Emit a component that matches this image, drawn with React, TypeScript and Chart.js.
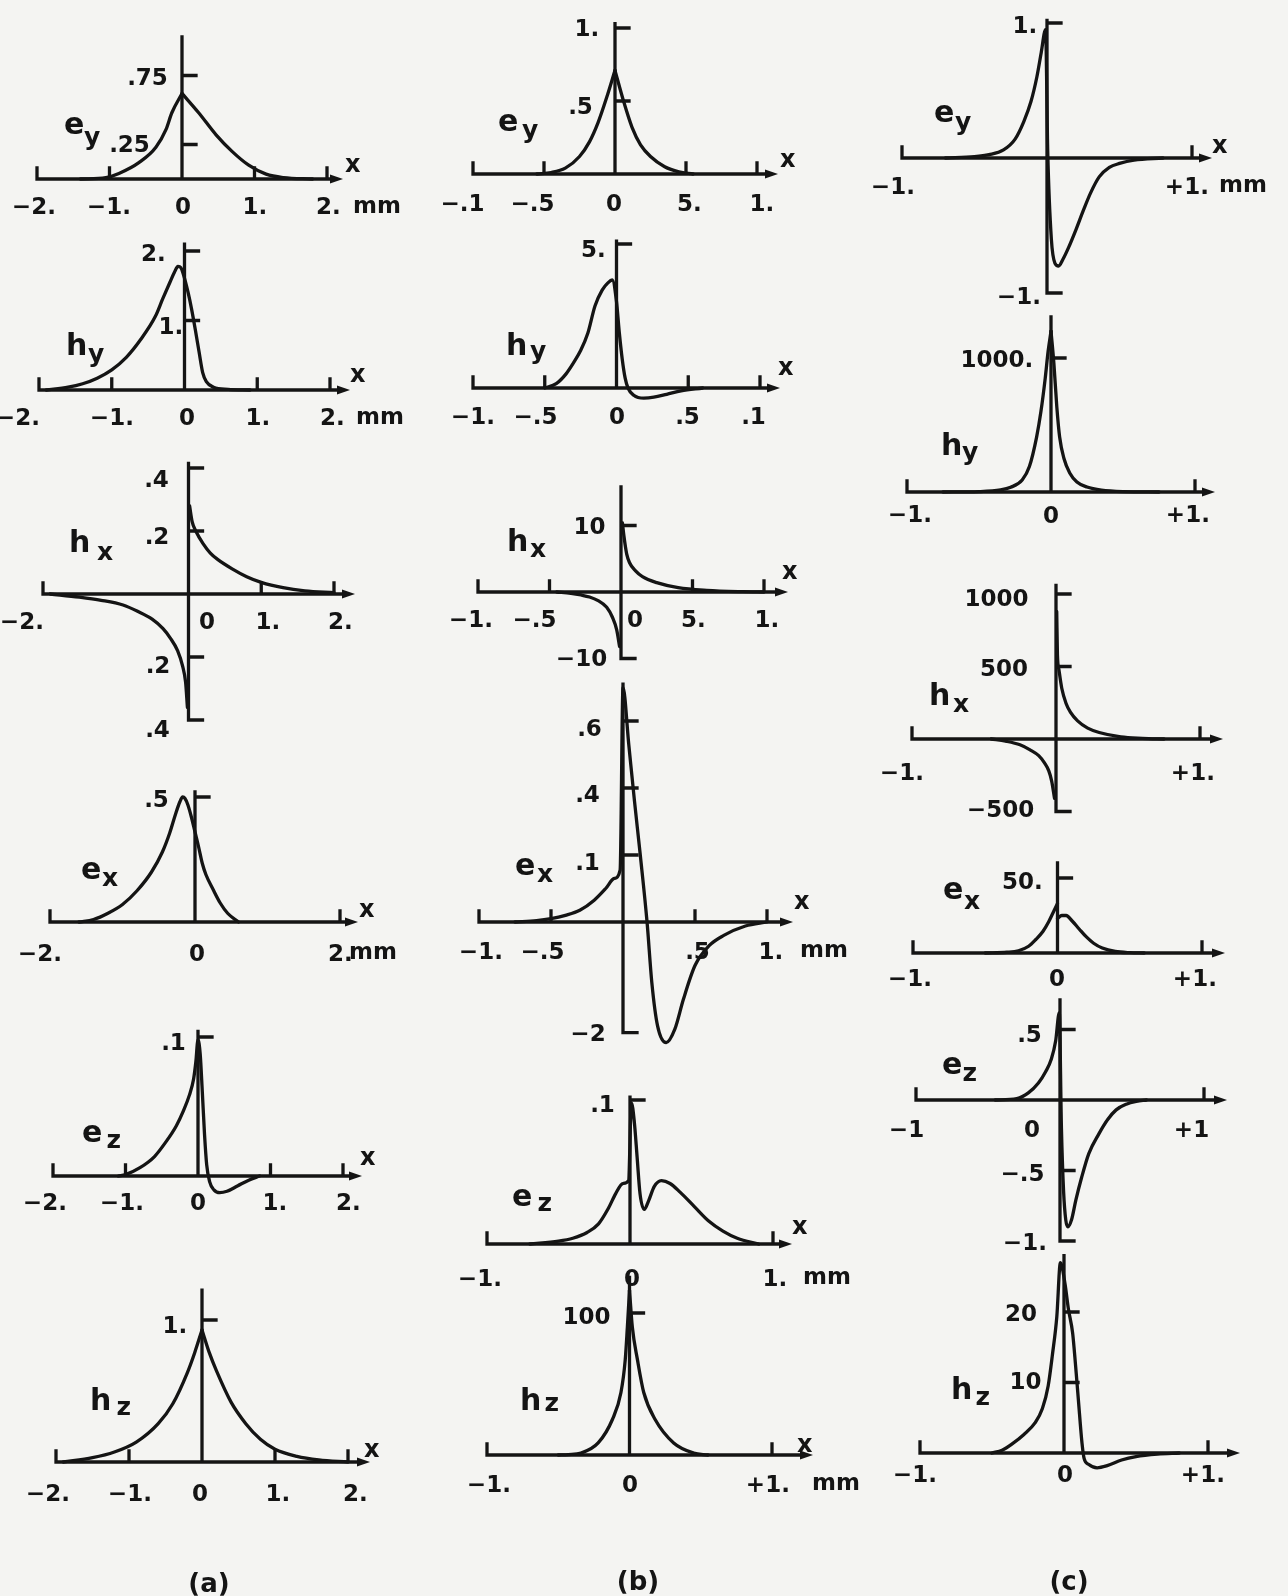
import { useEffect, useRef } from "react";
import { Chart, registerables } from "chart.js";
import type { Plugin } from "chart.js";

Chart.register(...registerables);

const PAGE_W = 1288;
const PAGE_H = 1596;
const INK = "#141414";
const PAPER = "#f4f4f2";
const FACE = '"DejaVu Sans", "Liberation Sans", sans-serif';
const M = "\u2212";

// ---------- column (a) field profiles ----------
const A_EY_L_X = [-1.4, -1.05, -0.87, -0.59, -0.36, -0.22, -0.14, 0];
const A_EY_L_Y = [0, 0.01, 0.04, 0.12, 0.23, 0.36, 0.48, 0.62];
const A_EY_R_X = [0, 0.23, 0.47, 0.69, 0.92, 1.16, 1.4, 1.8];
const A_EY_R_Y = [0.62, 0.48, 0.32, 0.2, 0.1, 0.035, 0.01, 0];

const A_HY_X = [-1.9, -1.6, -1.4, -1.2, -1.0, -0.8, -0.6, -0.4, -0.3, -0.2, -0.14, -0.09, -0.05, -0.02, 0.05, 0.1, 0.15, 0.2, 0.25, 0.3, 0.4, 0.6, 0.9];
const A_HY_Y = [0, 0.04, 0.09, 0.17, 0.29, 0.47, 0.73, 1.06, 1.31, 1.55, 1.69, 1.78, 1.76, 1.68, 1.4, 1.15, 0.86, 0.55, 0.25, 0.12, 0.04, 0.01, 0];

const A_HX_L_X = [-1.9, -1.5, -1.2, -0.9, -0.7, -0.5, -0.35, -0.25, -0.15, -0.08, -0.04, -0.015];
const A_HX_L_Y = [0, -0.01, -0.02, -0.035, -0.055, -0.08, -0.11, -0.14, -0.18, -0.23, -0.28, -0.36];
const A_HX_R_X = [0.015, 0.05, 0.1, 0.2, 0.3, 0.4, 0.6, 0.8, 1.0, 1.3, 1.6, 2.0];
const A_HX_R_Y = [0.28, 0.23, 0.2, 0.16, 0.13, 0.11, 0.08, 0.055, 0.037, 0.02, 0.01, 0.004];

const A_EX_X = [-1.6, -1.4, -1.2, -1.0, -0.8, -0.6, -0.45, -0.35, -0.27, -0.21, -0.17, -0.14, -0.1, -0.05, 0, 0.05, 0.1, 0.15, 0.25, 0.35, 0.45, 0.6];
const A_EX_Y = [0, 0.01, 0.035, 0.07, 0.125, 0.2, 0.28, 0.355, 0.43, 0.48, 0.5, 0.495, 0.47, 0.42, 0.36, 0.3, 0.235, 0.19, 0.13, 0.075, 0.035, 0];

const A_EZ_X = [-1.1, -1.0, -0.8, -0.6, -0.45, -0.3, -0.2, -0.12, -0.06, -0.03, 0, 0.03, 0.06, 0.09, 0.12, 0.16, 0.22, 0.3, 0.4, 0.55, 0.7, 0.85];
const A_EZ_Y = [0, 0.001, 0.006, 0.014, 0.024, 0.036, 0.047, 0.058, 0.07, 0.082, 0.098, 0.088, 0.06, 0.03, 0.008, -0.004, -0.01, -0.012, -0.011, -0.007, -0.003, 0];

const A_HZ_L_X = [-1.9, -1.5, -1.2, -0.9, -0.6, -0.4, -0.2, -0.1, 0];
const A_HZ_L_Y = [0, 0.03, 0.07, 0.14, 0.27, 0.41, 0.63, 0.77, 0.93];
const A_HZ_R_X = [0, 0.1, 0.2, 0.4, 0.6, 0.8, 1.0, 1.3, 1.6, 2.0];
const A_HZ_R_Y = [0.93, 0.77, 0.64, 0.42, 0.27, 0.16, 0.09, 0.04, 0.015, 0];

// ---------- column (b) field profiles ----------
const B_EY_L_X = [-0.55, -0.45, -0.35, -0.25, -0.18, -0.12, -0.06, 0];
const B_EY_L_Y = [0, 0.01, 0.04, 0.12, 0.22, 0.35, 0.52, 0.71];
const B_EY_R_X = [0, 0.06, 0.12, 0.18, 0.25, 0.35, 0.45, 0.55];
const B_EY_R_Y = [0.71, 0.5, 0.32, 0.2, 0.12, 0.05, 0.015, 0];

const B_HY_X = [-0.5, -0.42, -0.35, -0.3, -0.25, -0.2, -0.15, -0.1, -0.06, -0.03, 0, 0.02, 0.04, 0.06, 0.08, 0.12, 0.19, 0.26, 0.35, 0.45, 0.6];
const B_HY_Y = [0, 0.15, 0.5, 0.87, 1.3, 1.9, 2.85, 3.4, 3.65, 3.75, 3.0, 1.9, 1.0, 0.35, 0, -0.25, -0.35, -0.32, -0.22, -0.1, 0];

const B_HX_L_X = [-0.45, -0.35, -0.28, -0.22, -0.16, -0.1, -0.06, -0.03, -0.01];
const B_HX_L_Y = [0, -0.2, -0.45, -0.75, -1.3, -2.3, -3.8, -5.7, -8.2];
const B_HX_R_X = [0.01, 0.02, 0.04, 0.06, 0.1, 0.15, 0.25, 0.4, 0.6, 0.85, 1.0];
const B_HX_R_Y = [10.4, 8.5, 5.7, 4.4, 3.2, 2.3, 1.4, 0.65, 0.25, 0.05, 0];

const B_EX_X = [-0.75, -0.6, -0.5, -0.4, -0.3, -0.2, -0.12, -0.06, -0.02, 0, 0.04, 0.08, 0.12, 0.167, 0.2, 0.24, 0.3, 0.36, 0.42, 0.5, 0.6, 0.7, 0.85, 1.0];
const B_EX_Y = [0, 0.004, 0.01, 0.02, 0.035, 0.065, 0.1, 0.13, 0.155, 0.7, 0.53, 0.36, 0.2, 0, -0.18, -0.31, -0.36, -0.32, -0.23, -0.13, -0.07, -0.04, -0.012, 0];

const B_EZ_X = [-0.7, -0.5, -0.4, -0.3, -0.22, -0.15, -0.1, -0.05, -0.01, 0.01, 0.03, 0.05, 0.07, 0.1, 0.13, 0.17, 0.22, 0.28, 0.35, 0.45, 0.55, 0.65, 0.75, 0.9];
const B_EZ_Y = [0, 0.002, 0.004, 0.008, 0.014, 0.025, 0.035, 0.042, 0.044, 0.098, 0.085, 0.06, 0.035, 0.024, 0.03, 0.04, 0.044, 0.042, 0.036, 0.026, 0.016, 0.009, 0.004, 0];

const B_HZ_L_X = [-0.5, -0.43, -0.34, -0.22, -0.12, -0.06, -0.03, -0.015, 0];
const B_HZ_L_Y = [0, 0.3, 1.4, 8.5, 25, 44, 67, 90, 116];
const B_HZ_R_X = [0, 0.02, 0.056, 0.1, 0.18, 0.31, 0.45, 0.55];
const B_HZ_R_Y = [116, 90, 67, 44, 25, 8.5, 1.4, 0];

// ---------- column (c) field profiles ----------
const C_EY_X = [-0.7, -0.5, -0.4, -0.3, -0.22, -0.16, -0.11, -0.07, -0.04, -0.01, 0.005, 0.03, 0.055, 0.08, 0.11, 0.15, 0.2, 0.25, 0.3, 0.36, 0.43, 0.5, 0.6, 0.8];
const C_EY_Y = [0, 0.01, 0.025, 0.06, 0.14, 0.27, 0.42, 0.6, 0.78, 0.95, 0.05, -0.6, -0.78, -0.8, -0.75, -0.66, -0.53, -0.39, -0.26, -0.14, -0.07, -0.04, -0.015, 0];

const C_HY_L_X = [-0.75, -0.5, -0.35, -0.28, -0.2, -0.15, -0.1, -0.07, -0.04, -0.02, 0];
const C_HY_L_Y = [0, 3, 15, 35, 90, 190, 410, 600, 850, 1050, 1200];
const C_HY_R_X = [0, 0.02, 0.04, 0.06, 0.09, 0.13, 0.18, 0.25, 0.35, 0.5, 0.75];
const C_HY_R_Y = [1200, 960, 640, 410, 250, 142, 75, 37, 14, 3, 0];

const C_HX_L_X = [-0.45, -0.35, -0.25, -0.18, -0.12, -0.08, -0.05, -0.03, -0.01];
const C_HX_L_Y = [0, -15, -40, -75, -115, -165, -220, -290, -410];
const C_HX_R_X = [0.005, 0.01, 0.02, 0.04, 0.07, 0.1, 0.15, 0.22, 0.3, 0.45, 0.6, 0.75];
const C_HX_R_Y = [880, 580, 480, 350, 245, 185, 125, 75, 45, 15, 5, 0];

const C_EX_L_X = [-0.5, -0.35, -0.27, -0.2, -0.15, -0.1, -0.06, -0.03, 0];
const C_EX_L_Y = [0, 0.5, 1.5, 4.5, 9, 14.5, 21, 27, 33];
const C_EX_R_X = [0, 0.03, 0.06, 0.1, 0.15, 0.2, 0.25, 0.31, 0.4, 0.5, 0.6];
const C_EX_R_Y = [23, 25, 25, 21.5, 16, 10.7, 6.5, 3.3, 1, 0.2, 0];

const C_EZ_X = [-0.45, -0.3, -0.22, -0.15, -0.1, -0.06, -0.03, -0.005, 0.01, 0.025, 0.04, 0.055, 0.08, 0.11, 0.15, 0.2, 0.27, 0.33, 0.39, 0.46, 0.53, 0.6];
const C_EZ_Y = [0, 0.01, 0.05, 0.12, 0.2, 0.29, 0.42, 0.62, -0.2, -0.65, -0.85, -0.9, -0.85, -0.71, -0.55, -0.38, -0.24, -0.14, -0.07, -0.03, -0.01, 0];

const C_HZ_X = [-0.5, -0.43, -0.36, -0.28, -0.2, -0.15, -0.11, -0.08, -0.05, -0.025, 0.007, 0.03, 0.06, 0.08, 0.1, 0.125, 0.14, 0.17, 0.23, 0.3, 0.4, 0.5, 0.65, 0.8];
const C_HZ_Y = [0, 0.4, 1.3, 2.6, 4.3, 6.3, 9.5, 14, 19.3, 27, 24, 20.5, 17, 12.5, 7.5, 1.4, -0.8, -1.6, -2.1, -1.8, -1.0, -0.5, -0.15, 0];

// ---------- axis ticks and tick labels ----------
const X_RANGE_A = [-2, 2];
const X_RANGE_BC = [-1, 1];

const A_EY_XT = [-2, -1, 1, 2];
const A_EY_XL = [`${M}2.`, `${M}1.`, "0", "1.", "2."];
const A_EY_YT = [0.25, 0.75];
const A_EY_YL = [".25", ".75"];

const A_HY_XT = [-2, -1, 1, 2];
const A_HY_XL = [`${M}2.`, `${M}1.`, "0", "1.", "2."];
const A_HY_YT = [1, 2];
const A_HY_YL = ["1.", "2."];

const A_HX_XT = [-2, 1, 2];
const A_HX_XL = [`${M}2.`, "0", "1.", "2."];
const A_HX_YT = [0.4, 0.2, -0.2, -0.4];
const A_HX_YL = [".4", ".2", ".2", ".4"];

const A_EX_XT = [-2, 2];
const A_EX_XL = [`${M}2.`, "0", "2."];
const A_EX_YT = [0.5];
const A_EX_YL = [".5"];

const A_EZ_XT = [-2, -1, 1, 2];
const A_EZ_XL = [`${M}2.`, `${M}1.`, "0", "1.", "2."];
const A_EZ_YT = [0.1];
const A_EZ_YL = [".1"];

const A_HZ_XT = [-2, -1, 1, 2];
const A_HZ_XL = [`${M}2.`, `${M}1.`, "0", "1.", "2."];
const A_HZ_YT = [1];
const A_HZ_YL = ["1."];

const B_EY_XT = [-1, -0.5, 0.5, 1];
const B_EY_XL = [`${M}.1`, `${M}.5`, "0", "5.", "1."];
const B_EY_YT = [0.5, 1];
const B_EY_YL = [".5", "1."];

const B_HY_XT = [-1, -0.5, 0.5, 1];
const B_HY_XL = [`${M}1.`, `${M}.5`, "0", ".5", ".1"];
const B_HY_YT = [5];
const B_HY_YL = ["5."];

const B_HX_XT = [-1, -0.5, 0.5, 1];
const B_HX_XL = [`${M}1.`, `${M}.5`, "0", "5.", "1."];
const B_HX_YT = [10, -10];
const B_HX_YL = ["10", `${M}10`];

const B_EX_XT = [-1, -0.5, 0.5, 1];
const B_EX_XL = [`${M}1.`, `${M}.5`, ".5", "1."];
const B_EX_YT = [0.6, 0.4, 0.2, -0.33];
const B_EX_YL = [".6", ".4", ".1", `${M}2`];

const B_EZ_XT = [-1, 1];
const B_EZ_XL = [`${M}1.`, "0", "1."];
const B_EZ_YT = [0.1];
const B_EZ_YL = [".1"];

const B_HZ_XT = [-1, 1];
const B_HZ_XL = [`${M}1.`, "0", "+1."];
const B_HZ_YT = [100];
const B_HZ_YL = ["100"];

const C_EY_XT = [-1, 1];
const C_EY_XL = [`${M}1.`, "+1."];
const C_EY_YT = [1, -1];
const C_EY_YL = ["1.", `${M}1.`];

const C_HY_XT = [-1, 1];
const C_HY_XL = [`${M}1.`, "0", "+1."];
const C_HY_YT = [1000];
const C_HY_YL = ["1000."];

const C_HX_XT = [-1, 1];
const C_HX_XL = [`${M}1.`, "+1."];
const C_HX_YT = [1000, 500, -500];
const C_HX_YL = ["1000", "500", `${M}500`];

const C_EX_XT = [-1, 1];
const C_EX_XL = [`${M}1.`, "0", "+1."];
const C_EX_YT = [50];
const C_EX_YL = ["50."];

const C_EZ_XT = [-1, 1];
const C_EZ_XL = [`${M}1`, "0", "+1"];
const C_EZ_YT = [0.5, -0.5, -1];
const C_EZ_YL = [".5", `${M}.5`, `${M}1.`];

const C_HZ_XT = [-1, 1];
const C_HZ_XL = [`${M}1.`, "0", "+1."];
const C_HZ_YT = [20, 10];
const C_HZ_YL = ["20", "10"];

const CAPTIONS = ["(a)", "(b)", "(c)"];

// ---------- panel geometry ----------
type Spot = [number, number];
type Curve = { x: number[]; y: number[] };
interface Panel {
  key: string;
  curves: Curve[];
  xRange: number[];
  xTicks: number[];
  xText: string[];
  yTicks: number[];
  yText: string[];
  field: [string, string];
  px: [number, number];
  base: number;
  k: number;
  yAxis: [number, number];
  arrow: number;
  xTextAt: Spot[];
  yTextAt: Spot[];
  fieldAt: [Spot, Spot];
  xNameAt?: Spot;
  unitAt?: Spot;
}

const PANELS: Panel[] = [
  {
    key: "a-ey",
    curves: [{ x: A_EY_L_X, y: A_EY_L_Y }, { x: A_EY_R_X, y: A_EY_R_Y }],
    xRange: X_RANGE_A, xTicks: A_EY_XT, xText: A_EY_XL, yTicks: A_EY_YT, yText: A_EY_YL, field: ["e", "y"],
    px: [37, 327], base: 179, k: 138, yAxis: [0, 1.03], arrow: 16,
    xTextAt: [[34, 205], [109, 205], [183, 205], [255, 205], [328, 205]],
    yTextAt: [[130, 143], [148, 76]],
    fieldAt: [[74, 125], [92, 140]], xNameAt: [353, 165], unitAt: [377, 206],
  },
  {
    key: "a-hy",
    curves: [{ x: A_HY_X, y: A_HY_Y }],
    xRange: X_RANGE_A, xTicks: A_HY_XT, xText: A_HY_XL, yTicks: A_HY_YT, yText: A_HY_YL, field: ["h", "y"],
    px: [39, 330], base: 390, k: 69.5, yAxis: [0, 2.1], arrow: 20,
    xTextAt: [[18, 416], [112, 416], [187, 416], [258, 416], [332, 416]],
    yTextAt: [[171, 325], [153, 252]],
    fieldAt: [[77, 343], [96, 357]], xNameAt: [358, 375], unitAt: [380, 417],
  },
  {
    key: "a-hx",
    curves: [{ x: A_HX_L_X, y: A_HX_L_Y }, { x: A_HX_R_X, y: A_HX_R_Y }],
    xRange: X_RANGE_A, xTicks: A_HX_XT, xText: A_HX_XL, yTicks: A_HX_YT, yText: A_HX_YL, field: ["h", "x"],
    px: [43, 334], base: 594, k: 315, yAxis: [-0.4, 0.415], arrow: 21,
    xTextAt: [[22, 620], [207, 620], [268, 620], [340, 620]],
    yTextAt: [[157, 478], [157, 535], [158, 664], [158, 728]],
    fieldAt: [[80, 540], [105, 553]],
  },
  {
    key: "a-ex",
    curves: [{ x: A_EX_X, y: A_EX_Y }],
    xRange: X_RANGE_A, xTicks: A_EX_XT, xText: A_EX_XL, yTicks: A_EX_YT, yText: A_EX_YL, field: ["e", "x"],
    px: [50, 340], base: 922, k: 250, yAxis: [0, 0.52], arrow: 18,
    xTextAt: [[40, 952], [197, 952], [340, 952]],
    yTextAt: [[157, 798]],
    fieldAt: [[91, 870], [110, 879]], xNameAt: [367, 910], unitAt: [373, 952],
  },
  {
    key: "a-ez",
    curves: [{ x: A_EZ_X, y: A_EZ_Y }],
    xRange: X_RANGE_A, xTicks: A_EZ_XT, xText: A_EZ_XL, yTicks: A_EZ_YT, yText: A_EZ_YL, field: ["e", "z"],
    px: [53, 343], base: 1176, k: 1390, yAxis: [0, 0.104], arrow: 19,
    xTextAt: [[45, 1201], [122, 1201], [198, 1201], [275, 1201], [348, 1201]],
    yTextAt: [[174, 1041]],
    fieldAt: [[92, 1133], [114, 1141]], xNameAt: [368, 1158],
  },
  {
    key: "a-hz",
    curves: [{ x: A_HZ_L_X, y: A_HZ_L_Y }, { x: A_HZ_R_X, y: A_HZ_R_Y }],
    xRange: X_RANGE_A, xTicks: A_HZ_XT, xText: A_HZ_XL, yTicks: A_HZ_YT, yText: A_HZ_YL, field: ["h", "z"],
    px: [56, 348], base: 1462, k: 142, yAxis: [0, 1.21], arrow: 22,
    xTextAt: [[48, 1492], [130, 1492], [200, 1492], [278, 1492], [355, 1492]],
    yTextAt: [[175, 1324]],
    fieldAt: [[101, 1398], [124, 1408]], xNameAt: [372, 1450],
  },
  {
    key: "b-ey",
    curves: [{ x: B_EY_L_X, y: B_EY_L_Y }, { x: B_EY_R_X, y: B_EY_R_Y }],
    xRange: X_RANGE_BC, xTicks: B_EY_XT, xText: B_EY_XL, yTicks: B_EY_YT, yText: B_EY_YL, field: ["e", "y"],
    px: [473, 757], base: 174, k: 146, yAxis: [0, 1.03], arrow: 21,
    xTextAt: [[463, 202], [533, 202], [614, 202], [689, 202], [762, 202]],
    yTextAt: [[581, 105], [587, 27]],
    fieldAt: [[508, 122], [530, 133]], xNameAt: [788, 160],
  },
  {
    key: "b-hy",
    curves: [{ x: B_HY_X, y: B_HY_Y }],
    xRange: X_RANGE_BC, xTicks: B_HY_XT, xText: B_HY_XL, yTicks: B_HY_YT, yText: B_HY_YL, field: ["h", "y"],
    px: [473, 760], base: 388, k: 28.8, yAxis: [0, 5.1], arrow: 20,
    xTextAt: [[473, 415], [536, 415], [617, 415], [688, 415], [754, 415]],
    yTextAt: [[593, 248]],
    fieldAt: [[517, 343], [538, 354]], xNameAt: [786, 368],
  },
  {
    key: "b-hx",
    curves: [{ x: B_HX_L_X, y: B_HX_L_Y }, { x: B_HX_R_X, y: B_HX_R_Y }],
    xRange: X_RANGE_BC, xTicks: B_HX_XT, xText: B_HX_XL, yTicks: B_HX_YT, yText: B_HX_YL, field: ["h", "x"],
    px: [478, 764], base: 592, k: 6.65, yAxis: [-10, 15.8], arrow: 24,
    xTextAt: [[471, 618], [535, 618], [635, 618], [693, 618], [767, 618]],
    yTextAt: [[590, 525], [582, 657]],
    fieldAt: [[518, 539], [538, 550]], xNameAt: [790, 572],
  },
  {
    key: "b-ex",
    curves: [{ x: B_EX_X, y: B_EX_Y }],
    xRange: X_RANGE_BC, xTicks: B_EX_XT, xText: B_EX_XL, yTicks: B_EX_YT, yText: B_EX_YL, field: ["e", "x"],
    px: [479, 767], base: 922, k: 335, yAxis: [-0.33, 0.71], arrow: 26,
    xTextAt: [[481, 950], [543, 950], [698, 950], [771, 950]],
    yTextAt: [[590, 727], [588, 793], [588, 861], [588, 1032]],
    fieldAt: [[525, 866], [545, 875]], xNameAt: [802, 902], unitAt: [824, 950],
  },
  {
    key: "b-ez",
    curves: [{ x: B_EZ_X, y: B_EZ_Y }],
    xRange: X_RANGE_BC, xTicks: B_EZ_XT, xText: B_EZ_XL, yTicks: B_EZ_YT, yText: B_EZ_YL, field: ["e", "z"],
    px: [487, 773], base: 1244, k: 1440, yAxis: [0, 0.102], arrow: 19,
    xTextAt: [[480, 1277], [632, 1277], [775, 1277]],
    yTextAt: [[603, 1103]],
    fieldAt: [[522, 1197], [545, 1204]], xNameAt: [800, 1227], unitAt: [827, 1277],
  },
  {
    key: "b-hz",
    curves: [{ x: B_HZ_L_X, y: B_HZ_L_Y }, { x: B_HZ_R_X, y: B_HZ_R_Y }],
    xRange: X_RANGE_BC, xTicks: B_HZ_XT, xText: B_HZ_XL, yTicks: B_HZ_YT, yText: B_HZ_YL, field: ["h", "z"],
    px: [487, 772], base: 1455, k: 1.42, yAxis: [0, 125], arrow: 41,
    xTextAt: [[489, 1483], [630, 1483], [768, 1483]],
    yTextAt: [[587, 1315]],
    fieldAt: [[531, 1398], [552, 1404]], xNameAt: [805, 1445], unitAt: [836, 1483],
  },
  {
    key: "c-ey",
    curves: [{ x: C_EY_X, y: C_EY_Y }],
    xRange: X_RANGE_BC, xTicks: C_EY_XT, xText: C_EY_XL, yTicks: C_EY_YT, yText: C_EY_YL, field: ["e", "y"],
    px: [902, 1192], base: 158, k: 135, yAxis: [-1, 1.02], arrow: 20,
    xTextAt: [[893, 185], [1187, 185]],
    yTextAt: [[1025, 24], [1019, 295]],
    fieldAt: [[944, 113], [963, 125]], xNameAt: [1220, 146], unitAt: [1243, 185],
  },
  {
    key: "c-hy",
    curves: [{ x: C_HY_L_X, y: C_HY_L_Y }, { x: C_HY_R_X, y: C_HY_R_Y }],
    xRange: X_RANGE_BC, xTicks: C_HY_XT, xText: C_HY_XL, yTicks: C_HY_YT, yText: C_HY_YL, field: ["h", "y"],
    px: [907, 1195], base: 492, k: 0.134, yAxis: [0, 1306], arrow: 20,
    xTextAt: [[910, 513], [1051, 514], [1188, 513]],
    yTextAt: [[997, 358]],
    fieldAt: [[952, 443], [970, 455]],
  },
  {
    key: "c-hx",
    curves: [{ x: C_HX_L_X, y: C_HX_L_Y }, { x: C_HX_R_X, y: C_HX_R_Y }],
    xRange: X_RANGE_BC, xTicks: C_HX_XT, xText: C_HX_XL, yTicks: C_HX_YT, yText: C_HX_YL, field: ["h", "x"],
    px: [912, 1200], base: 739, k: 0.145, yAxis: [-500, 1060], arrow: 23,
    xTextAt: [[902, 771], [1193, 771]],
    yTextAt: [[997, 597], [1004, 667], [1001, 808]],
    fieldAt: [[940, 693], [961, 705]],
  },
  {
    key: "c-ex",
    curves: [{ x: C_EX_L_X, y: C_EX_L_Y }, { x: C_EX_R_X, y: C_EX_R_Y }],
    xRange: X_RANGE_BC, xTicks: C_EX_XT, xText: C_EX_XL, yTicks: C_EX_YT, yText: C_EX_YL, field: ["e", "x"],
    px: [913, 1202], base: 953, k: 1.5, yAxis: [0, 60], arrow: 23,
    xTextAt: [[910, 977], [1057, 977], [1195, 977]],
    yTextAt: [[1022, 880]],
    fieldAt: [[953, 890], [972, 902]],
  },
  {
    key: "c-ez",
    curves: [{ x: C_EZ_X, y: C_EZ_Y }],
    xRange: X_RANGE_BC, xTicks: C_EZ_XT, xText: C_EZ_XL, yTicks: C_EZ_YT, yText: C_EZ_YL, field: ["e", "z"],
    px: [916, 1204], base: 1100, k: 141, yAxis: [-1, 0.71], arrow: 23,
    xTextAt: [[907, 1128], [1032, 1128], [1192, 1128]],
    yTextAt: [[1030, 1033], [1023, 1172], [1025, 1241]],
    fieldAt: [[952, 1065], [970, 1074]],
  },
  {
    key: "c-hz",
    curves: [{ x: C_HZ_X, y: C_HZ_Y }],
    xRange: X_RANGE_BC, xTicks: C_HZ_XT, xText: C_HZ_XL, yTicks: C_HZ_YT, yText: C_HZ_YL, field: ["h", "z"],
    px: [920, 1208], base: 1453, k: 7.05, yAxis: [0, 28], arrow: 32,
    xTextAt: [[915, 1473], [1065, 1473], [1203, 1473]],
    yTextAt: [[1021, 1312], [1026, 1380]],
    fieldAt: [[962, 1387], [983, 1398]],
  },
];

const CAPTION_AT: Spot[] = [[209, 1583], [638, 1581], [1069, 1581]];

// ---------- drawing ----------
const LINE_W = 3.3;
const X_TICK = 11;
const Y_TICK = 14;
const TICK_FONT = `bold 23px ${FACE}`;
const FIELD_FONT = `bold 30px ${FACE}`;
const SUB_FONT = `bold 25px ${FACE}`;
const NAME_FONT = `bold 24px ${FACE}`;

// Draws text so that its inked box is centred on the given spot.
function centred(ctx: CanvasRenderingContext2D, text: string, at: Spot, font: string) {
  ctx.font = font;
  ctx.textAlign = "left";
  ctx.textBaseline = "alphabetic";
  const m = ctx.measureText(text);
  const x = at[0] - (m.actualBoundingBoxRight - m.actualBoundingBoxLeft) / 2;
  const y = at[1] + (m.actualBoundingBoxAscent - m.actualBoundingBoxDescent) / 2;
  ctx.fillText(text, x, y);
}

function axesPlugin(p: Panel): Plugin<"line"> {
  return {
    id: "fieldAxes",
    afterDatasetsDraw(chart) {
      const ctx = chart.ctx;
      const sx = chart.scales.x;
      const sy = chart.scales.y;
      const X = (v: number) => sx.getPixelForValue(v);
      const Y = (v: number) => sy.getPixelForValue(v);
      const y0 = Y(0);
      const x0 = X(0);
      const tip = X(p.xRange[1]) + p.arrow;

      ctx.save();
      ctx.strokeStyle = INK;
      ctx.fillStyle = INK;
      ctx.lineWidth = LINE_W;
      ctx.lineCap = "square";
      ctx.beginPath();
      ctx.moveTo(X(p.xRange[0]), y0);
      ctx.lineTo(tip - 8, y0);
      for (const v of p.xTicks) {
        ctx.moveTo(X(v), y0);
        ctx.lineTo(X(v), y0 - X_TICK);
      }
      ctx.moveTo(x0, Y(p.yAxis[0]));
      ctx.lineTo(x0, Y(p.yAxis[1]));
      for (const v of p.yTicks) {
        ctx.moveTo(x0, Y(v));
        ctx.lineTo(x0 + Y_TICK, Y(v));
      }
      ctx.stroke();

      // arrowhead on the x axis
      ctx.beginPath();
      ctx.moveTo(tip, y0);
      ctx.lineTo(tip - 13, y0 - 4.5);
      ctx.lineTo(tip - 13, y0 + 4.5);
      ctx.closePath();
      ctx.fill();

      p.xText.forEach((t, i) => centred(ctx, t, p.xTextAt[i], TICK_FONT));
      p.yText.forEach((t, i) => centred(ctx, t, p.yTextAt[i], TICK_FONT));
      centred(ctx, p.field[0], p.fieldAt[0], FIELD_FONT);
      centred(ctx, p.field[1], p.fieldAt[1], SUB_FONT);
      if (p.xNameAt) centred(ctx, "x", p.xNameAt, NAME_FONT);
      if (p.unitAt) centred(ctx, "mm", p.unitAt, TICK_FONT);
      ctx.restore();
    },
  };
}

function FieldPanel({ panel }: { panel: Panel }) {
  const ref = useRef<HTMLCanvasElement>(null);
  useEffect(() => {
    const canvas = ref.current;
    if (!canvas) return;
    const p = panel;
    const top = p.base - p.yAxis[1] * p.k;
    const bottom = p.base - p.yAxis[0] * p.k;
    const chart = new Chart(canvas, {
      type: "line",
      data: {
        datasets: p.curves.map((c) => ({
          data: c.x.map((x, i) => ({ x, y: c.y[i] })),
          borderColor: INK,
          borderWidth: LINE_W,
          pointRadius: 0,
          pointHoverRadius: 0,
          fill: false,
          tension: 0.4,
          cubicInterpolationMode: "monotone" as const,
          borderCapStyle: "round" as const,
          borderJoinStyle: "round" as const,
          clip: false as const,
        })),
      },
      options: {
        animation: false,
        responsive: false,
        devicePixelRatio: 1,
        events: [],
        layout: {
          padding: { left: p.px[0], right: PAGE_W - p.px[1], top, bottom: PAGE_H - bottom },
        },
        scales: {
          x: { type: "linear", min: p.xRange[0], max: p.xRange[1], bounds: "data", display: false },
          y: { type: "linear", min: p.yAxis[0], max: p.yAxis[1], bounds: "data", display: false },
        },
        plugins: { legend: { display: false }, tooltip: { enabled: false } },
      },
      plugins: [axesPlugin(p)],
    });
    return () => chart.destroy();
  }, [panel]);
  return (
    <canvas
      ref={ref}
      width={PAGE_W}
      height={PAGE_H}
      style={{ position: "absolute", left: 0, top: 0, width: PAGE_W, height: PAGE_H, pointerEvents: "none" }}
    />
  );
}

export default function App() {
  return (
    <div
      style={{
        position: "absolute",
        left: 0,
        top: 0,
        width: PAGE_W,
        height: PAGE_H,
        background: PAPER,
        overflow: "hidden",
      }}
    >
      {PANELS.map((p) => (
        <FieldPanel key={p.key} panel={p} />
      ))}
      {CAPTIONS.map((c, i) => (
        <div
          key={c}
          style={{
            position: "absolute",
            left: CAPTION_AT[i][0],
            top: CAPTION_AT[i][1],
            transform: "translate(-50%, -50%)",
            font: `bold 26px ${FACE}`,
            color: INK,
            lineHeight: 1,
            whiteSpace: "nowrap",
          }}
        >
          {c}
        </div>
      ))}
    </div>
  );
}
